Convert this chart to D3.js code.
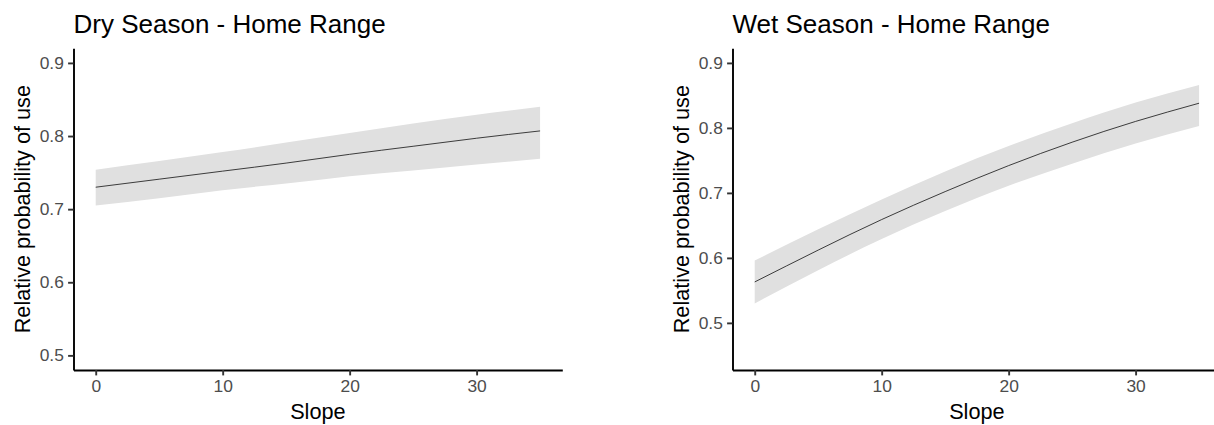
<!DOCTYPE html>
<html>
<head>
<meta charset="utf-8">
<script src="https://cdn.jsdelivr.net/npm/d3@7"></script>
<style>
  body { margin: 0; background: #fff; }
  text { font-family: "Liberation Sans", Arial, sans-serif; }
</style>
</head>
<body>
<div id="chart"></div>
<script>
// values
var slope = [0, 5, 10, 15, 20, 25, 30, 35];

var dryFit   = [0.730, 0.741, 0.752, 0.763, 0.775, 0.786, 0.797, 0.807];
var dryUpper = [0.754, 0.766, 0.778, 0.791, 0.804, 0.817, 0.829, 0.840];
var dryLower = [0.705, 0.715, 0.726, 0.735, 0.745, 0.753, 0.761, 0.769];

var wetFit   = [0.563, 0.612, 0.659, 0.702, 0.742, 0.778, 0.810, 0.838];
var wetUpper = [0.596, 0.644, 0.690, 0.733, 0.772, 0.807, 0.839, 0.866];
var wetLower = [0.530, 0.581, 0.629, 0.672, 0.711, 0.745, 0.776, 0.803];

var xTicks = [0, 10, 20, 30];
var yTicks = [0.5, 0.6, 0.7, 0.8, 0.9];

var panels = [
    { title: 'Dry Season - Home Range', left: 73.5, fit: dryFit, upper: dryUpper, lower: dryLower, ydom: [0.48, 0.92] },
    { title: 'Wet Season - Home Range', left: 732.5, fit: wetFit, upper: wetUpper, lower: wetLower, ydom: [0.4275, 0.9225] }
];

var W = 1214, H = 425;
var plotTop = 48.3, plotBottom = 370, panelW = 488.8;  // window.top is taken, so no plain `top`

var svg = d3.select('#chart').append('svg')
    .attr('width', W)
    .attr('height', H);

panels.forEach(function(p) {
    var x = d3.scaleLinear().domain([-1.75, 36.75]).range([p.left, p.left + panelW]);
    var y = d3.scaleLinear().domain(p.ydom).range([plotBottom, plotTop]);
    var rows = slope.map(function(s, i) {
        return { s: s, fit: p.fit[i], hi: p.upper[i], lo: p.lower[i] };
    });

    // confidence ribbon
    svg.append('path')
        .datum(rows)
        .attr('fill', '#e0e0e0')
        .attr('d', d3.area()
            .curve(d3.curveNatural)
            .x(function(d) { return x(d.s); })
            .y0(function(d) { return y(d.lo); })
            .y1(function(d) { return y(d.hi); }));

    // fitted line
    svg.append('path')
        .datum(rows)
        .attr('fill', 'none')
        .attr('stroke', '#111')
        .attr('stroke-width', 0.8)
        .attr('d', d3.line()
            .curve(d3.curveNatural)
            .x(function(d) { return x(d.s); })
            .y(function(d) { return y(d.fit); }));

    var gx = svg.append('g')
        .attr('transform', 'translate(0,' + plotBottom + ')')
        .call(d3.axisBottom(x).tickValues(xTicks).tickSize(5.4).tickSizeOuter(0).tickPadding(4.3));
    var gy = svg.append('g')
        .attr('transform', 'translate(' + p.left + ',0)')
        .call(d3.axisLeft(y).tickValues(yTicks).tickFormat(d3.format('.1f')).tickSize(5.4).tickSizeOuter(0).tickPadding(4.3));

    [gx, gy].forEach(function(g) {
        g.attr('font-size', null).attr('font-family', null);
        g.select('.domain').attr('stroke', '#000').attr('stroke-width', 1.9);
        g.selectAll('.tick line').attr('stroke', '#333').attr('stroke-width', 1.9);
        g.selectAll('.tick text')
            .attr('fill', '#4d4d4d')
            .style('font-size', '17.4px');
    });

    svg.append('text')
        .attr('x', p.left)
        .attr('y', 32.7)
        .style('font-size', '26px')
        .attr('fill', '#000')
        .text(p.title);

    svg.append('text')
        .attr('x', p.left + panelW / 2)
        .attr('y', 419)
        .attr('text-anchor', 'middle')
        .style('font-size', '21.7px')
        .text('Slope');

    svg.append('text')
        .attr('transform', 'translate(' + (p.left - 43.5) + ',' + ((plotTop + plotBottom) / 2) + ') rotate(-90)')
        .attr('text-anchor', 'middle')
        .style('font-size', '21.7px')
        .text('Relative probability of use');
});
</script>
</body>
</html>
